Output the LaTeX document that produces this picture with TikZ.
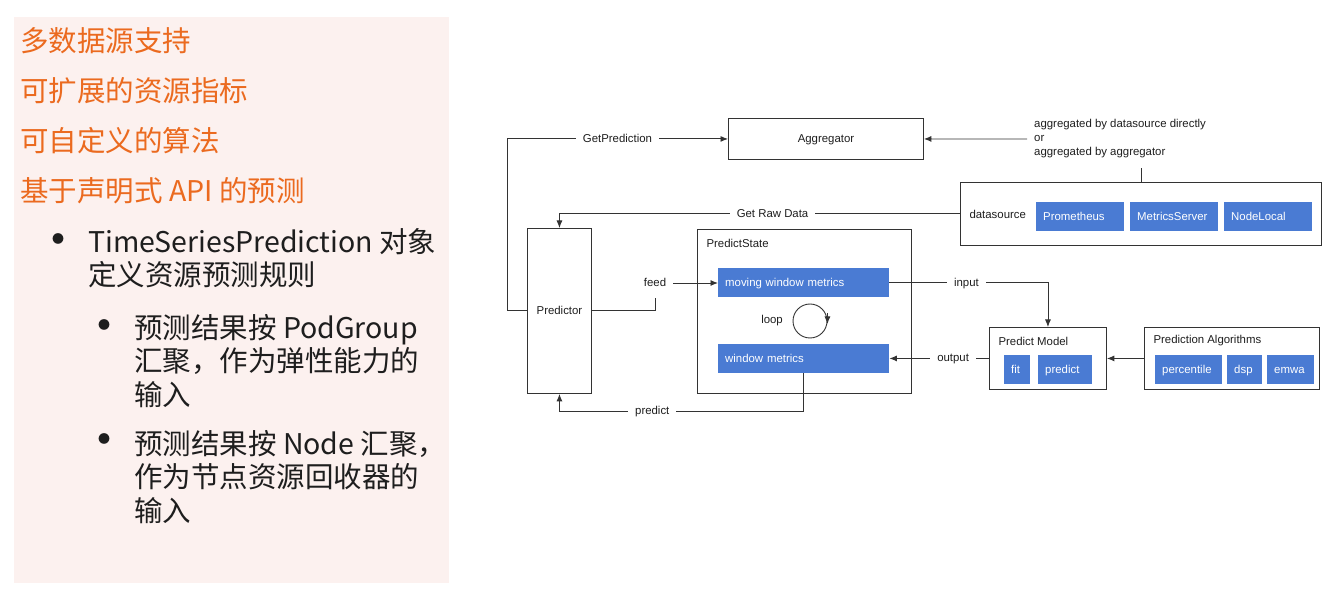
\documentclass[tikz,border=0pt]{standalone}
\usepackage{fontspec}
\setmainfont{Liberation Sans}
\newfontfamily\cjk{Noto Sans CJK SC}
\usetikzlibrary{calc,arrows.meta}
\definecolor{Panel}{HTML}{FCF1EF}
\definecolor{Accent}{HTML}{EB6A1F}
\definecolor{Block}{HTML}{4A7BD3}
\definecolor{Wire}{HTML}{333333}
\definecolor{Ink}{HTML}{1E1E1E}

\begin{document}
\begin{tikzpicture}[x=1pt,y=-1pt,>={Latex[length=7.5pt,width=6pt]},
  every node/.style={text=Ink,font=\fontsize{11.4}{14}\selectfont},
  frame/.style={draw=Wire,line width=.9pt,fill=white,inner sep=0pt,anchor=north west,
    text height=8pt,text depth=0pt},
  chip/.style={fill=Block,text=white,inner xsep=7pt,inner ysep=0pt,minimum height=29pt,
    align=left,anchor=north west,text height=8pt,text depth=0pt},
  tag/.style={fill=white,inner xsep=7pt,inner ysep=3pt,text height=8pt,text depth=1pt},
  wire/.style={draw=Wire,line width=.9pt},
  slide/.style={anchor=west,inner sep=0pt,align=left,font=\cjk\fontsize{28.5}{33.5}\selectfont},
  dot/.style={inner sep=0pt,font=\cjk\fontsize{12}{12}\selectfont}]
  \useasboundingbox[fill=white] (0,0) rectangle (1342,593);

  % Left panel with the feature list.
  \fill[Panel] (14,17) rectangle (449,583);
  \node[slide,text=Accent] (f1) at (20,41) {多数据源支持};
  \node[slide,text=Accent] (f2) at (20,91) {可扩展的资源指标};
  \node[slide,text=Accent] (f3) at (20,141) {可自定义的算法};
  \node[slide,text=Accent] (f4) at (20,191) {基于声明式 API 的预测};

  \node[dot] (d1) at (58,239) {●};
  \node[slide] (t1) at (88,258) {TimeSeriesPrediction 对象\\定义资源预测规则};
  \node[dot] (d2) at (104,325) {●};
  \node[slide] (t2) at (134,361) {预测结果按 PodGroup\\汇聚，作为弹性能力的\\输入};
  \node[dot] (d3) at (104,439) {●};
  \node[slide] (t3) at (134,477) {预测结果按 Node 汇聚，\\作为节点资源回收器的\\输入};

  % Frames.
  \node[frame,minimum width=195pt,minimum height=41pt] (agg) at (728,118) {Aggregator};
  \node[frame,minimum width=64pt,minimum height=165pt] (pred) at (527,228) {Predictor};
  \node[frame,minimum width=214pt,minimum height=164pt] (state) at (697,229) {};
  \node[frame,minimum width=361pt,minimum height=63pt] (src) at (960,182) {};
  \node[frame,minimum width=117pt,minimum height=62pt] (model) at (989,327) {};
  \node[frame,minimum width=175pt,minimum height=62pt] (algo) at (1144,327) {};

  \node[anchor=west] (statetxt) at (703,243) {PredictState};
  \node[anchor=west] (srctxt) at (966,214) {datasource};
  \node[anchor=west] (modeltxt) at (995,341) {Predict Model};
  \node[anchor=west] (algotxt) at (1150,341) {Prediction Algorithms};

  % Blue blocks.
  \node[chip,text width=74pt] (prom) at (1036,202) {Prometheus};
  \node[chip,text width=74pt] (ms) at (1130,202) {MetricsServer};
  \node[chip,text width=74pt] (nl) at (1224,202) {NodeLocal};
  \node[chip,text width=157pt] (moving) at (718,268) {moving window metrics};
  \node[chip,text width=12pt] (fit) at (1004,355) {fit};
  \node[chip,text width=40pt] (pr) at (1038,355) {predict};
  \node[chip,text width=53pt] (pct) at (1155,355) {percentile};
  \node[chip,text width=21pt] (dsp) at (1227,355) {dsp};
  \node[chip,text width=33pt] (emwa) at (1267,355) {emwa};
  \node[chip,text width=157pt] (window) at (718,344) {window metrics};

  % Loop inside the state.
  \node[anchor=east,inner xsep=0pt] (looptxt) at (783,321) {loop};
  \node[draw=Wire,line width=.9pt,circle,minimum size=34pt,inner sep=0pt] (loop) at (810,321) {};
  \draw[wire,->] ([yshift=8pt]loop.east) -- ([yshift=-3pt]loop.east);

  % Connectors.
  \draw[wire,->] (pred.west) -- ++(-20,0) |- node[tag,pos=.75] {GetPrediction} (agg.west);
  \node[anchor=west,align=left,inner xsep=7pt] (note) at (1027,139)
    {aggregated by datasource directly\\or\\aggregated by aggregator};
  \draw[wire,->] (note.west) -- (agg.east);
  \draw[wire] (src.north) -- ++(0,-14);
  \draw[wire,->] (src.west) -| node[tag,pos=.234] {Get Raw Data} (pred.north);
  \node[tag] (feed) at (655,283) {feed};
  \draw[wire] (pred.east) -| ($(feed)+(0,15)$);
  \draw[wire,->] (feed.east) -- (feed.east -| moving.west);
  \draw[wire,->] (moving.east) -| node[tag,pos=.243] {input} (model.north);
  \draw[wire,->] (model.west) -- node[tag,pos=.36] {output} (model.west -| window.east);
  \draw[wire,->] (algo.west) -- (model.east);
  \draw[wire,->] (window.south) -- ++(0,38) -| node[tag,pos=.31] {predict} (pred.south);
\end{tikzpicture}
\end{document}
